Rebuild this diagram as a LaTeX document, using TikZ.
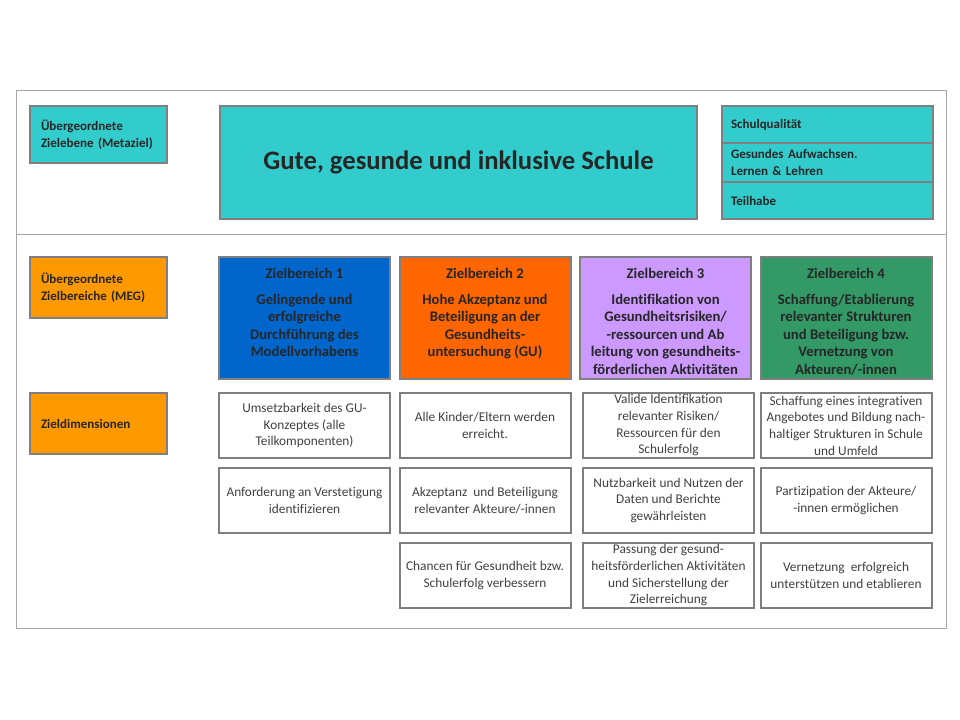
\documentclass[tikz,border=0pt]{standalone}
\usepackage{fontspec}
\setmainfont{Carlito}[Ligatures=NoCommon]
\usepackage{xcolor}
\usepackage{tikz}
\usetikzlibrary{positioning}

\definecolor{tealbox}{HTML}{33CCCC}
\definecolor{lblorange}{HTML}{FF9900}
\definecolor{zbblue}{HTML}{0066CC}
\definecolor{zborange}{HTML}{FF6600}
\definecolor{zbpurple}{HTML}{CC99FF}
\definecolor{zbgreen}{HTML}{339966}
\definecolor{boxgray}{HTML}{7F7F7F}
\definecolor{framegray}{HTML}{A6A6A6}
\definecolor{textdark}{HTML}{262626}
\definecolor{textgray}{HTML}{404040}

\newcommand{\lblfont}{\fontsize{9.75}{12.5}\selectfont\bfseries}
\newcommand{\titlefont}{\fontsize{20}{24}\selectfont\bfseries}
\newcommand{\zbfont}{\fontsize{11}{13.1}\selectfont\bfseries}
\newcommand{\dimfont}{\fontsize{10}{12.5}\selectfont}

\begin{document}
\begin{tikzpicture}[
    x=0.75pt, y=-0.75pt,
    node distance=7.5pt,
    frame/.style={draw=framegray, line width=0.75pt},
    shaded/.style={rectangle, draw=boxgray, line width=1.5pt, outer sep=0pt},
    lbl/.style={shaded, anchor=north west, minimum width=102pt, text width=86pt, inner xsep=8.25pt, align=left, font=\lblfont, text=textdark},
    metabox/.style={shaded, fill=tealbox, anchor=north west, minimum width=357.75pt, minimum height=84.75pt, font=\titlefont, text=textdark},
    stackbox/.style={shaded, fill=tealbox, anchor=north west, minimum width=158.25pt, text width=144.75pt, inner xsep=6.75pt, align=left, font=\lblfont, text=textdark},
    zbox/.style={shaded, anchor=north west, minimum width=128.25pt, minimum height=91.5pt},
    zbtext/.style={anchor=north, inner ysep=8.5pt, align=center, font=\zbfont, text=textdark},
    dimbox/.style={shaded, minimum width=128.25pt, minimum height=48.75pt, inner xsep=1pt, inner ysep=0pt, align=center, font=\dimfont, text=textgray}
]
\useasboundingbox (0,0) rectangle (960,720);
\draw[frame] (16,91) rectangle (946,628);
\draw[frame] (16,235) -- (946,235);

\node[lbl, fill=tealbox, minimum height=42.75pt] (metalbl) at (30,106) {Übergeordnete\\Zielebene (Metaziel)};
\node[lbl, fill=lblorange, minimum height=45.75pt] (meglbl) at (30,257) {Übergeordnete\\Zielbereiche (MEG)};
\node[lbl, fill=lblorange, minimum height=45.75pt] (dimlbl) at (30,393) {Zieldimensionen};

\node[metabox] (meta) at (220,106) {Gute, gesunde und inklusive Schule};
\node[stackbox, minimum height=27.75pt] (sq) at (722,106) {Schulqualität};
\node[stackbox, minimum height=29.25pt, below=0pt of sq] (aufw) {Gesundes Aufwachsen.\\Lernen \& Lehren};
\node[stackbox, minimum height=27.75pt, below=0pt of aufw] (teil) {Teilhabe};

\node[zbox, fill=zbblue] (zb1) at (219,257) {};
\node[zbox, fill=zborange, right=7.125pt of zb1] (zb2) {};
\node[zbox, fill=zbpurple, right=7.125pt of zb2] (zb3) {};
\node[zbox, fill=zbgreen, right=7.125pt of zb3] (zb4) {};

\node[zbtext] (zb1txt) at (zb1.north) {Zielbereich 1\\[6pt]Gelingende und\\erfolgreiche\\Durchführung des\\Modellvorhabens};
\node[zbtext] (zb2txt) at (zb2.north) {Zielbereich 2\\[6pt]Hohe Akzeptanz und\\Beteiligung an der\\Gesundheits-\\untersuchung (GU)};
\node[zbtext] (zb3txt) at (zb3.north) {Zielbereich 3\\[6pt]Identifikation von\\Gesundheitsrisiken/\\-ressourcen und Ab\\leitung von gesundheits-\\förderlichen Aktivitäten};
\node[zbtext] (zb4txt) at (zb4.north) {Zielbereich 4\\[6pt]Schaffung/Etablierung\\relevanter Strukturen\\und Beteiligung bzw.\\Vernetzung von\\Akteuren/-innen};

\node[dimbox, below=10.5pt of zb1] (d11) {Umsetzbarkeit des GU-\\Konzeptes (alle\\Teilkomponenten)};
\node[dimbox, below=of d11] (d12) {Anforderung an Verstetigung\\identifizieren};
\node[dimbox, below=10.5pt of zb2] (d21) {Alle Kinder/Eltern werden\\erreicht.};
\node[dimbox, below=of d21] (d22) {Akzeptanz\ \ und Beteiligung\\relevanter Akteure/-innen};
\node[dimbox, below=of d22] (d23) {Chancen für Gesundheit bzw.\\Schulerfolg verbessern};
\node[dimbox, below=10.5pt of zb3, xshift=2.25pt] (d31) {Valide Identifikation\\relevanter Risiken/\\Ressourcen für den\\Schulerfolg};
\node[dimbox, below=of d31] (d32) {Nutzbarkeit und Nutzen\ der\\Daten und Berichte\\gewährleisten};
\node[dimbox, below=of d32] (d33) {Passung der gesund-\\heitsförderlichen Aktivitäten\\und Sicherstellung der\\Zielerreichung};
\node[dimbox, below=10.5pt of zb4] (d41) {Schaffung eines integrativen\\Angebotes\ und Bildung nach-\\haltiger Strukturen\ in Schule\\und Umfeld};
\node[dimbox, below=of d41] (d42) {Partizipation der Akteure/\\-innen ermöglichen};
\node[dimbox, below=of d42] (d43) {Vernetzung\ \ erfolgreich\\unterstützen\ und etablieren};
\end{tikzpicture}
\end{document}
